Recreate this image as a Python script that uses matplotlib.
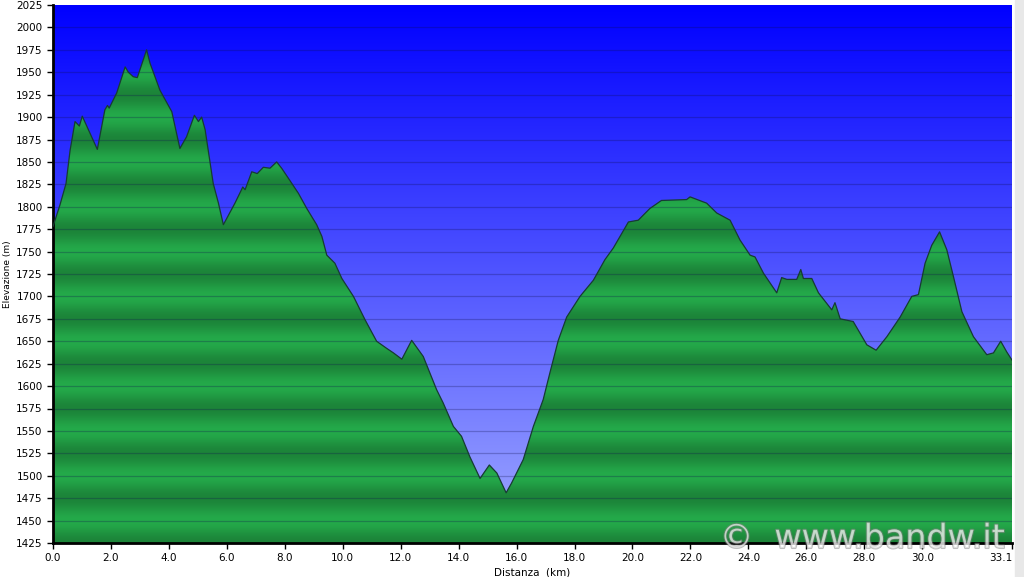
# profilo altimetrico del percorso (distanza km vs quota m)
import numpy as np
import matplotlib
matplotlib.use("Agg")
import matplotlib.pyplot as plt
import matplotlib.patheffects as pe

# dati
distanza = [0.0, 0.24, 0.45, 0.59, 0.76, 0.91, 1.01, 1.53, 1.79, 1.88, 1.94, 2.2,
            2.49, 2.6, 2.77, 2.91, 3.23, 3.35, 3.69, 4.1, 4.38, 4.61, 4.88, 5.02,
            5.13, 5.25, 5.53, 5.71, 5.88, 6.28, 6.55, 6.63, 6.86, 7.05, 7.26, 7.49,
            7.72, 7.89, 8.12, 8.47, 8.76, 9.1, 9.28, 9.45, 9.73, 9.97, 10.37, 10.77,
            11.17, 11.52, 11.75, 12.04, 12.38, 12.78, 13.24, 13.47, 13.82, 14.1,
            14.39, 14.74, 15.06, 15.32, 15.64, 15.83, 16.23, 16.58, 16.92, 17.16,
            17.44, 17.73, 18.19, 18.65, 19.05, 19.34, 19.86, 20.2, 20.6, 21.0,
            21.87, 21.99, 22.56, 22.91, 23.37, 23.71, 24.06, 24.23, 24.52, 24.98,
            25.15, 25.33, 25.67, 25.81, 25.9, 26.19, 26.42, 26.88, 26.99, 27.17,
            27.62, 28.09, 28.41, 28.78, 29.24, 29.64, 29.87, 30.1, 30.33, 30.6,
            30.85, 31.08, 31.37, 31.77, 32.23, 32.46, 32.71, 32.92, 33.1]
quota = [1778, 1802, 1826, 1863, 1895, 1890, 1901, 1864, 1908, 1913, 1910, 1927,
         1956, 1950, 1945, 1944, 1975, 1960, 1930, 1906, 1865, 1878, 1902, 1895,
         1900, 1886, 1826, 1804, 1780, 1804, 1822, 1819, 1839, 1837, 1844, 1843,
         1850, 1843, 1832, 1815, 1798, 1780, 1767, 1746, 1737, 1720, 1700, 1674,
         1650, 1642, 1637, 1630, 1651, 1633, 1596, 1581, 1555, 1544,
         1521, 1497, 1512, 1503, 1481, 1492, 1518, 1555, 1585, 1616,
         1651, 1677, 1700, 1718, 1741, 1754, 1783, 1785, 1798, 1807,
         1808, 1811, 1804, 1793, 1785, 1763, 1746, 1744, 1726, 1704,
         1721, 1719, 1719, 1730, 1720, 1720, 1704, 1685, 1693, 1675,
         1672, 1646, 1640, 1655, 1677, 1700, 1702, 1737, 1757, 1772,
         1752, 1722, 1683, 1655, 1635, 1637, 1650, 1638, 1629]

tick_x = [0, 2, 4, 6, 8, 10, 12, 14, 16, 18, 20, 22, 24, 26, 28, 30, 33.1]
y_min, y_max = 1425, 2025

fig = plt.figure(figsize=(10.24, 5.77), dpi=100)
fig.patch.set_facecolor("white")
ax = fig.add_axes([53 / 1024, 34 / 577, 959 / 1024, 538 / 577])
x0, x1 = 0, 33.1

# sfondo blu sfumato
n = 400
t = np.linspace(0, 1, n)[:, None]  # 0 = alto, 1 = basso
top = np.array([0, 0, 255]) / 255
bot = np.array([160, 170, 255]) / 255
grad = top + (bot - top) * t
bg = np.repeat(grad[:, None, :], 2, axis=1)
ax.imshow(bg, extent=[x0, x1, y_min, y_max], aspect="auto", origin="upper", zorder=0)

# riempimento verde a bande
h = np.linspace(y_max, y_min, 1200)[:, None]
f = 0.5 * (1 + np.cos(2 * np.pi * (h - 1575) / 50))
light = np.array([36, 170, 74]) / 255
dark = np.array([28, 132, 57]) / 255
green = light + (dark - light) * f
gimg = np.repeat(green[:, None, :], 2, axis=1)
im = ax.imshow(gimg, extent=[x0, x1, y_min, y_max], aspect="auto", origin="upper", zorder=1)
poly = ax.fill_between(distanza, quota, y_min, color="none", zorder=1)
im.set_clip_path(poly.get_paths()[0], transform=ax.transData)

ax.plot(distanza, quota, color="#173b33", linewidth=0.9, zorder=3)

# griglia ogni 25 m
for yy in range(y_min + 25, y_max, 25):
    ax.axhline(yy, color="#101050", alpha=0.28, linewidth=0.9, zorder=2)

ax.set_xlim(x0, x1)
ax.set_ylim(y_min, y_max)
ax.set_yticks(range(y_min, y_max + 1, 25))
ax.set_xticks(tick_x)
ax.set_xticklabels(["%.1f" % v for v in tick_x])
ax.get_xticklabels()[-1].set_horizontalalignment("right")
ax.tick_params(labelsize=7.5, length=4, width=1, direction="out", colors="black")
for s in ["top", "right"]:
    ax.spines[s].set_visible(False)
for s in ["left", "bottom"]:
    ax.spines[s].set_linewidth(2)
ax.set_ylabel("Elevazione (m)", fontsize=6.5, labelpad=3)
ax.set_xlabel("Distanza  (km)", fontsize=7.5, labelpad=3)

# striscia grigia a destra
fig.patches.append(plt.Rectangle((1015 / 1024, 0), 9 / 1024, 1, transform=fig.transFigure,
                                 color="#e8e8e8", zorder=0))

# filigrana
fig.text(1005 / 1024, 29 / 577, "©  www.bandw.it", ha="right", va="baseline",
         fontsize=24, color="white", alpha=0.5,
         path_effects=[pe.withStroke(linewidth=1.5, foreground="#808080")])

fig.savefig("out.png", dpi=100)
